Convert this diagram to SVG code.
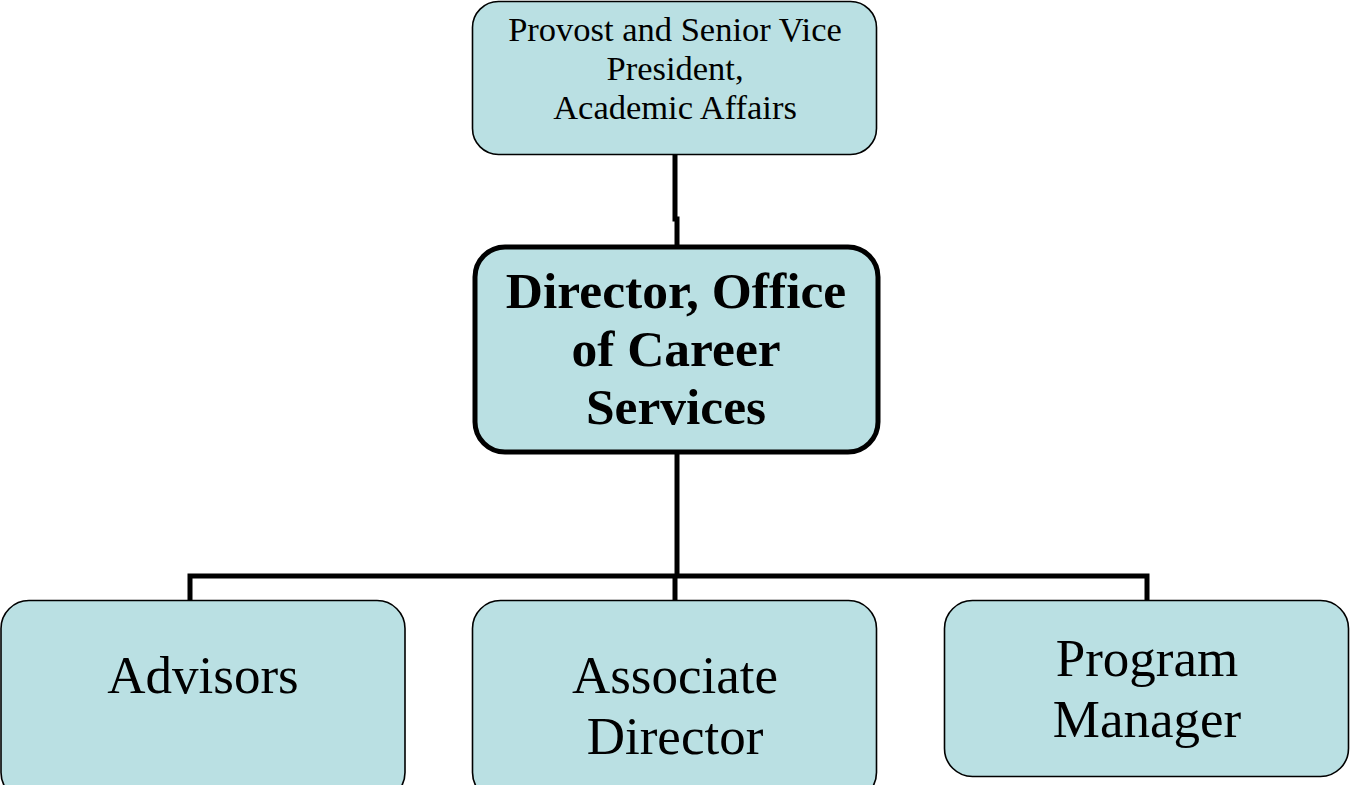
<svg xmlns="http://www.w3.org/2000/svg" width="1350" height="785" viewBox="0 0 1350 785">
<style>
.box{fill:#BAE0E3;stroke:#000;stroke-width:1.6}
.main{fill:#BAE0E3;stroke:#000;stroke-width:5}
.conn{fill:none;stroke:#000;stroke-width:5}
text{font-family:"Liberation Serif","Times New Roman",serif;fill:#000;text-anchor:middle}
.sm{font-size:34.5px}
.bd{font-size:51.5px;font-weight:bold}
.lg{font-size:53px}
</style>
<rect width="1350" height="785" fill="#fff"/>
<g id="connectors">
<path class="conn" d="M675 155 V219 H677 V247"/>
<path class="conn" d="M677 452 V578"/>
<path class="conn" d="M190 601 V576 H1147 V601"/>
<path class="conn" d="M675 576 V601"/>
</g>
<g id="provost">
<rect class="box" x="472.5" y="1.5" width="404" height="153" rx="26"/>
<text class="sm" x="675" y="41">Provost and Senior Vice</text>
<text class="sm" x="675" y="80">President,</text>
<text class="sm" x="675" y="119">Academic Affairs</text>
</g>
<g id="director">
<rect class="main" x="475" y="247" width="403" height="205" rx="30"/>
<text class="bd" x="676" y="308">Director, Office</text>
<text class="bd" x="676" y="366">of Career</text>
<text class="bd" x="676" y="424">Services</text>
</g>
<g id="advisors">
<rect class="box" x="1" y="600.5" width="404" height="200" rx="28"/>
<text class="lg" x="203" y="693">Advisors</text>
</g>
<g id="associate">
<rect class="box" x="472.5" y="600.5" width="404" height="200" rx="28"/>
<text class="lg" x="675" y="693">Associate</text>
<text class="lg" x="675" y="754">Director</text>
</g>
<g id="program">
<rect class="box" x="944.5" y="600.5" width="404" height="176" rx="28"/>
<text class="lg" x="1147" y="676">Program</text>
<text class="lg" x="1147" y="737">Manager</text>
</g>
</svg>
